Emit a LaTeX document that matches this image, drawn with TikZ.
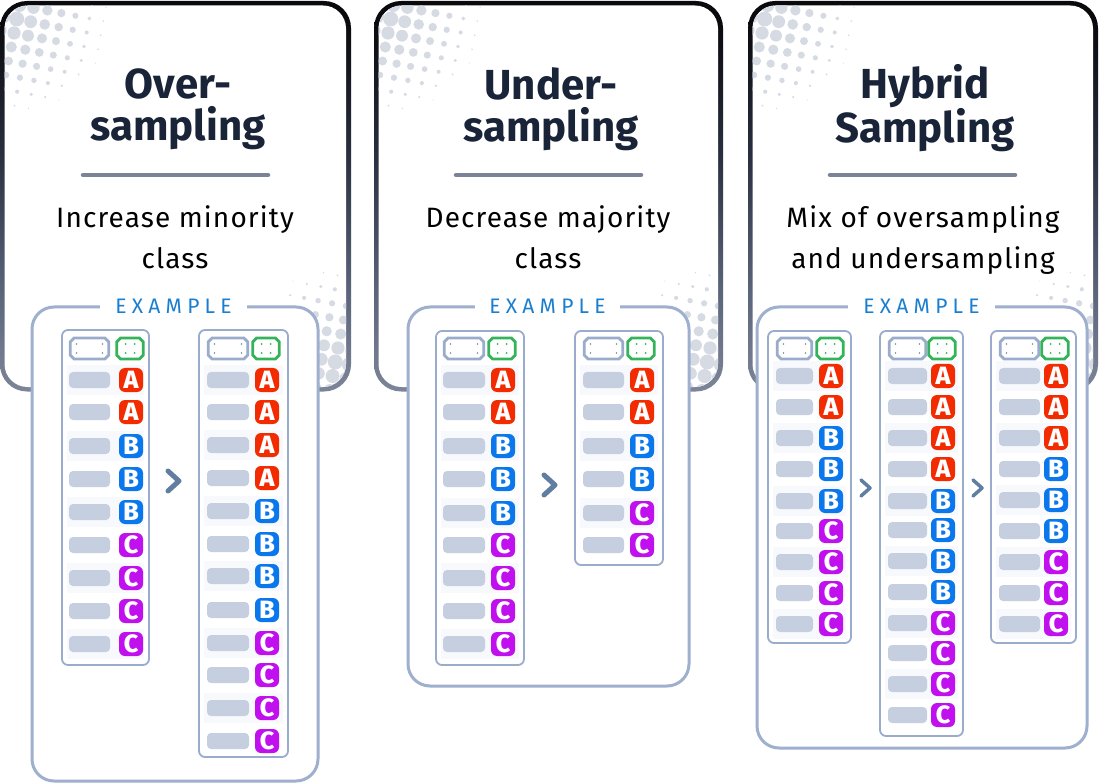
\documentclass[tikz,border=0pt]{standalone}
\usepackage{fontspec}
\usetikzlibrary{calc}
\setmainfont{Fira Sans}
\newfontfamily\titlefont{Fira Sans}[UprightFont=* SemiBold,BoldFont=* Bold]
\newfontfamily\iconfont{Fira Sans ExtraBold}
\newfontfamily\subfont{Fira Sans}[LetterSpace=4]
\newfontfamily\exfont{Fira Sans}[LetterSpace=25]
\definecolor{inkT}{HTML}{1A2438}
\definecolor{ruleC}{HTML}{7B8496}
\definecolor{dotC}{HTML}{D6DAE3}
\definecolor{frameC}{HTML}{9FB0CF}
\definecolor{tblC}{HTML}{9AACCC}
\definecolor{hdotC}{HTML}{7A88A0}
\definecolor{barC}{HTML}{C6CFE0}
\definecolor{bandC}{HTML}{F7F9FC}
\definecolor{greenC}{HTML}{34B35A}
\definecolor{exC}{HTML}{1A7FD0}
\definecolor{iconA}{HTML}{F22C00}
\definecolor{iconB}{HTML}{0A78EC}
\definecolor{iconC}{HTML}{C010EE}
\definecolor{chevC}{HTML}{5F7EA0}
\definecolor{shA}{HTML}{7D8598}
\definecolor{shB}{HTML}{5A647A}
\definecolor{shC}{HTML}{2A3040}
\definecolor{shD}{HTML}{0A0A0E}
\pgfdeclareverticalshading{cardborder}{100bp}{
 color(0bp)=(shA);
 color(25bp)=(shA);
 color(38bp)=(shB);
 color(55bp)=(shC);
 color(72bp)=(shD);
 color(100bp)=(shD)}
\tikzset{
 titletext/.style={font=\titlefont\bfseries\fontsize{42}{42}\selectfont,text=inkT,align=center,inner sep=0pt},
 subtext/.style={font=\subfont\fontsize{28}{41}\selectfont,text=black,align=center,inner sep=0pt},
 exlabel/.style={font=\exfont\fontsize{21}{21}\selectfont,text=exC,fill=white,inner sep=0pt,minimum height=14pt},
 exframe/.style={fill=white,draw=frameC,line width=3pt,rounded corners=22pt},
 tblframe/.style={fill=white,draw=tblC,line width=1.8pt,rounded corners=6pt},
 hdrbox/.style={inner sep=0pt,minimum height=20.6pt},
 hdrline/.style={fill=white,line width=2.8pt,line join=miter},
 barcell/.style={fill=barC,rounded corners=4pt,inner sep=0pt,minimum height=16pt},
 iconcell/.style={rounded corners=6pt,inner sep=0pt,minimum width=24pt,minimum height=24pt,text=white,font=\iconfont\fontsize{25}{25}\selectfont},
 iconA/.style={iconcell,fill=iconA},
 iconB/.style={iconcell,fill=iconB},
 iconC/.style={iconcell,fill=iconC},
 chevron/.style={draw=chevC,line cap=round,line join=round,line width=#1},
}
% octagon round a named node
\newcommand\octa[2]{%
 \draw[hdrline,draw=#2] ([xshift=4pt]#1.north west) -- ([xshift=-4pt]#1.north east) -- ([yshift=-4pt]#1.north east) -- ([yshift=4pt]#1.south east) -- ([xshift=-4pt]#1.south east) -- ([xshift=4pt]#1.south west) -- ([yshift=4pt]#1.south west) -- ([yshift=-4pt]#1.north west) -- cycle;}
% card: L, R
\newcommand\drawcard[2]{%
 \shade[shading=cardborder,rounded corners=27pt] (#1-1,1) rectangle (#2+1,391.5);
 \begin{scope}
  \clip[rounded corners=23pt] (#1+3.5,5.5) rectangle (#2-4,387);
  \fill[white] (#1,0) rectangle (#2,390);
  \foreach \i in {-3,...,9}{\foreach \j in {-4,...,8}{
    \pgfmathsetmacro\px{13+14*\i-2.7*\j}
    \pgfmathsetmacro\py{33+2.7*\i+14*\j}
    \pgfmathsetmacro\dd{veclen(\px-10,\py-15)}
    \pgfmathsetmacro\rr{8-\dd/13}
    \pgfmathparse{\rr>0.5?1:0}
    \ifnum\pgfmathresult=1
     \fill[dotC] (#1+\px,\py) circle (\rr pt);
     \fill[dotC] (#2+1-\px,381-\py) circle (\rr pt);
    \fi
  }}
 \end{scope}}
% name,left,right,top,bottom,barL,barR,iconX,rows
\newcommand\datatable[9]{%
 \node[tblframe,minimum width=#3-#2,minimum height=#5-#4,inner sep=0pt] (#1-frame) at ({(#2+#3)/2},{(#4+#5)/2}) {};
 \node[hdrbox,minimum width=#7-#6-2.8] (#1-hg) at ({(#6+#7)/2},348.5) {};
 \node[hdrbox,minimum width=26.2pt] (#1-hn) at (#8-1,348.5) {};
 \octa{#1-hg}{tblC}
 \octa{#1-hn}{greenC}
 \foreach \sx in {-1,1}{\foreach \sy in {-1,1}{
  \fill[hdotC] ([xshift=\sx*(#7-#6-15)/2*1pt,yshift=\sy*4.5pt]#1-hg.center) circle (0.9pt);
  \fill[greenC] ([xshift=\sx*4.5pt,yshift=\sy*4.5pt]#1-hn.center) circle (1pt);
 }}
 \foreach \yy/\lt [count=\k] in {#9}{
  \ifodd\k \fill[bandC] (#2+5,\yy-15) rectangle (#3-5,\yy+15); \fi
  \node[barcell,minimum width=#7-#6] (#1-b\k) at ({(#6+#7)/2},\yy) {};
  \node[icon\lt] (#1-i\k) at (#8,\yy) {\lt};
 }}
\begin{document}
\begin{tikzpicture}[x=1pt,y=-1pt]
\useasboundingbox (0,0) rectangle (1100,783);
\fill[white] (0,0) rectangle (1100,783);
\drawcard{1}{350}
\drawcard{375}{722}
\drawcard{749}{1097}
% card texts
\node[titletext] (t1) at (178,109) {Over-\\sampling};
\node[titletext] (t2) at (551,109) {Under-\\sampling};
\node[titletext] (t3) at (925,108) {Hybrid\\Sampling};
\coordinate (r1a) at (83,175); \coordinate (r1b) at (268,175);
\coordinate (r2a) at (456,175); \coordinate (r2b) at (641,175);
\coordinate (r3a) at (830,175); \coordinate (r3b) at (1015,175);
\foreach \a/\b in {r1a/r1b,r2a/r2b,r3a/r3b}\draw[ruleC,line width=4.5pt,line cap=round] (\a) -- (\b);
\node[subtext] (s1) at (175,237.5) {Increase minority\\class};
\node[subtext] (s2) at (548,237) {Decrease majority\\class};
\node[subtext] (s3) at (923,240) {Mix of oversampling\\and undersampling};
% example frames
\draw[exframe] (32,307) rectangle (318,781);
\draw[exframe] (408,307) rectangle (689,686);
\draw[exframe] (757,307) rectangle (1087,748);
\node[exlabel,minimum width=147pt] (e1) at (173.5,306) {EXAMPLE};
\node[exlabel,minimum width=145pt] (e2) at (547.5,306) {EXAMPLE};
\node[exlabel,minimum width=147pt] (e3) at (921.5,306) {EXAMPLE};
% tables
\datatable{a1}{62}{149}{330}{665}{69}{110}{131}{380/A,412/A,446/B,479/B,512/B,545/C,578/C,611/C,644/C}
\datatable{a2}{199}{288}{330}{757}{207}{249}{267}{380/A,412/A,445/A,478/A,511/B,544/B,576/B,610/B,643/C,675/C,708/C,741/C}
\datatable{b1}{436}{524}{331}{665}{443}{485}{503}{380/A,412/A,446/B,479/B,513/B,545/C,578/C,611/C,644/C}
\datatable{b2}{575}{663}{331}{565}{583}{624}{642}{380/A,412/A,446/B,479/B,513/C,545/C}
\datatable{c1}{768}{851}{331}{643}{776}{813}{831}{376/A,407/A,438/B,469/B,501/B,531/C,562/C,593/C,624/C}
\datatable{c2}{880}{963}{331}{736}{888}{927}{943}{376/A,407/A,438/A,469/A,501/B,530/B,561/B,592/B,623/C,653/C,684/C,715/C}
\datatable{c3}{991}{1076}{331}{643}{999}{1040}{1056}{376/A,407/A,438/A,469/B,500/B,531/B,562/C,593/C,624/C}
% chevrons
\draw[chevron=5pt] (168,471) -- (179,481) -- (168,491);
\draw[chevron=5pt] (544,475) -- (555,485) -- (544,495);
\draw[chevron=3.5pt] (861,480) -- (870,488) -- (861,496);
\draw[chevron=3.5pt] (973,480) -- (982,488) -- (973,496);
\end{tikzpicture}
\end{document}
